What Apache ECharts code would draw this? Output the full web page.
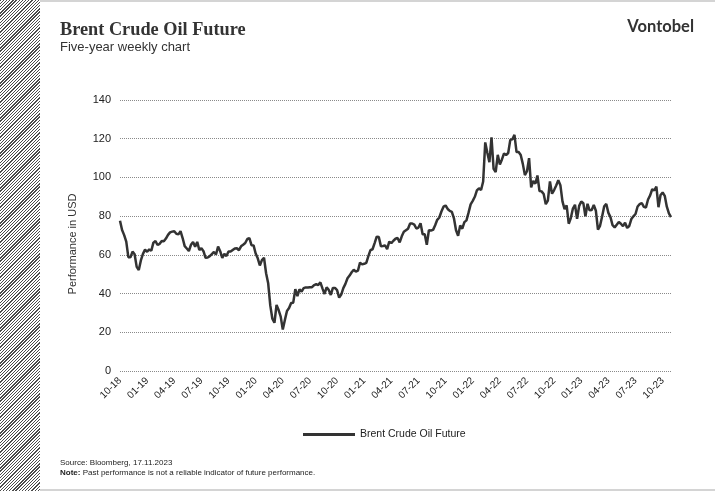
<!DOCTYPE html>
<html><head><meta charset="utf-8">
<script src="https://cdn.jsdelivr.net/npm/echarts@6/dist/echarts.min.js"></script>
<style>
html,body{margin:0;padding:0;background:#fff;}
#wrap{position:relative;width:715px;height:491px;overflow:hidden;background:#fff;}
#hatch{position:absolute;left:0;top:0;width:40px;height:491px;background:repeating-linear-gradient(135deg,#4a4a4a 0px,#4a4a4a 0.9px,#fff 0.9px,#fff 2.25px);}
#topbar{position:absolute;left:40px;top:0;width:675px;height:2px;background:#d4d4d4;}
#botbar{position:absolute;left:40px;top:489px;width:675px;height:2px;background:#d4d4d4;}
#chart{position:absolute;left:0;top:0;width:715px;height:491px;}
</style>
</head><body>
<div id="wrap"><div id="hatch"></div><div id="topbar"></div><div id="botbar"></div><div id="chart"></div></div>
<script>
// Weekly Brent values (Fridays)
const startDate = '2018-10-26';
const brent2018 = [77.6,72.8,70.2,66.8,58.8,58.7,61.7,60.3,53.8,52.2];
const brent2019 = [57.1,60.5,62.7,61.6,62.8,62.1,66.3,67.1,65.1,65.7,67.2,67.0,68.4,70.3,71.6,72.0,72.2,70.9,70.6,72.2,68.7,64.5,63.3,62.0,65.2,66.6,64.2,66.7,62.5,63.5,61.9,58.5,58.6,59.3,60.4,61.5,60.2,64.3,61.9,58.4,60.5,59.4,61.7,61.7,62.5,63.3,63.4,62.4,64.4,65.2,66.1,68.2];
const brent2020 = [68.6,65.0,64.9,60.7,58.2,54.5,57.3,58.5,50.5,45.3,33.9,27.0,24.9,34.1,31.5,28.1,21.4,26.4,31.0,32.5,35.1,35.3,42.3,38.7,42.2,41.0,42.8,43.2,43.1,43.3,43.3,44.4,44.8,44.4,45.8,42.7,39.8,43.2,41.9,39.3,42.9,42.9,41.8,37.9,39.5,42.8,45.0,47.9,49.3,51.0,52.3,51.3];
const brent2021 = [51.8,56.0,55.1,55.4,55.9,59.3,62.4,62.9,66.1,69.4,69.2,64.5,64.6,64.9,63.0,66.8,66.1,67.3,68.3,68.7,66.4,69.6,71.9,72.7,73.5,76.2,76.2,75.6,73.6,74.1,76.3,70.7,70.6,65.2,72.7,72.6,72.9,75.3,78.1,79.3,82.4,84.9,85.5,83.7,82.7,82.2,78.9,72.7,69.9,75.2,73.5,76.9,77.8];
const brent2022 = [81.8,86.1,87.9,90.0,93.3,94.4,93.5,97.9,118.1,112.7,107.9,120.7,104.4,102.8,111.7,106.7,109.3,112.4,111.6,112.6,119.4,119.7,122.0,113.1,113.1,111.6,107.0,101.2,103.2,110.0,94.9,98.2,96.7,101.0,93.0,92.8,91.4,86.2,88.0,97.9,91.6,93.5,95.8,98.6,96.0,87.6,83.6,85.6,76.1,79.0,83.9,85.9];
const brent2023 = [78.6,85.3,87.6,86.7,79.9,86.4,83.0,83.2,85.8,82.8,73.0,75.0,79.8,85.1,86.3,81.7,79.5,75.3,74.2,75.6,77.0,76.1,74.8,76.6,73.9,74.9,78.5,79.9,81.1,85.0,86.2,86.8,84.8,84.5,88.6,90.7,93.9,93.3,95.3,84.6,90.9,92.2,90.5,84.9,81.4,79.5];
const yTicks = [0,20,40,60,80,100,120,140];
const seriesName = 'Brent Crude Oil Future';

const values = [].concat(brent2018,brent2019,brent2020,brent2021,brent2022,brent2023);
const categories = [];
{
  const d0 = new Date(startDate + 'T00:00:00Z');
  for (let i = 0; i < values.length; i++) {
    const d = new Date(d0.getTime() + i*7*86400000);
    const mm = String(d.getUTCMonth()+1).padStart(2,'0');
    const yy = String(d.getUTCFullYear()).slice(2);
    categories.push(mm + '-' + yy);
  }
}

const chart = echarts.init(document.getElementById('chart'), null, {renderer:'canvas'});
const sans = 'Liberation Sans, Arial, sans-serif';
chart.setOption({
  backgroundColor:'transparent',
  animation:false,
  grid:{left:120, right:44, top:100, bottom:120},
  legend:{
    data:[seriesName], left:298, top:424, icon:'rect', itemWidth:52, itemHeight:3, itemGap:10,
    textStyle:{fontFamily:sans, fontSize:10.5, color:'#222'}
  },
  xAxis:{
    type:'category', data:categories, boundaryGap:false,
    axisLine:{show:false}, axisTick:{show:false}, splitLine:{show:false},
    axisLabel:{interval:12, rotate:45, margin:8, fontSize:10, color:'#222', fontFamily:sans}
  },
  yAxis:{
    type:'value', min:yTicks[0], max:yTicks[yTicks.length-1], interval:20,
    axisLine:{show:false}, axisTick:{show:false},
    axisLabel:{fontSize:11, color:'#222', margin:9, fontFamily:sans},
    splitLine:{lineStyle:{type:'dotted', color:'#8a8a8a', width:1}}
  },
  series:[{
    name:seriesName, type:'line', data:values, showSymbol:false, symbol:'none',
    lineStyle:{width:2.5, color:'#333'}, itemStyle:{color:'#333'}
  }],
  graphic:[
    {type:'text', x:60, y:30, style:{text:'Brent Crude Oil Future', fontFamily:'Liberation Serif, serif', fontWeight:'bold', fontSize:18.3, fill:'#333', verticalAlign:'middle'}},
    {type:'text', x:60, y:47.5, style:{text:'Five-year weekly chart', fontFamily:sans, fontSize:13, fill:'#333', verticalAlign:'middle'}},
    {type:'text', x:694, y:26.5, style:{text:'Vontobel', fontFamily:'Lato, sans-serif', fontWeight:'bold', fontSize:16.5, fill:'#333', align:'right', verticalAlign:'middle'}},
    {type:'text', x:73, y:244, rotation:Math.PI/2, style:{text:'Performance in USD', fontFamily:sans, fontSize:11, fill:'#333', align:'center', verticalAlign:'middle'}},
    {type:'text', x:60, y:463, style:{text:'Source: Bloomberg, 17.11.2023', fontFamily:sans, fontSize:8, fill:'#222', verticalAlign:'middle'}},
    {type:'text', x:60, y:473, style:{text:'{b|Note:} Past performance is not a reliable indicator of future performance.', fontFamily:sans, fontSize:8, fill:'#222', verticalAlign:'middle', rich:{b:{fontWeight:'bold', fontFamily:sans, fontSize:8, fill:'#222'}}}}
  ]
});
</script>
</body></html>
